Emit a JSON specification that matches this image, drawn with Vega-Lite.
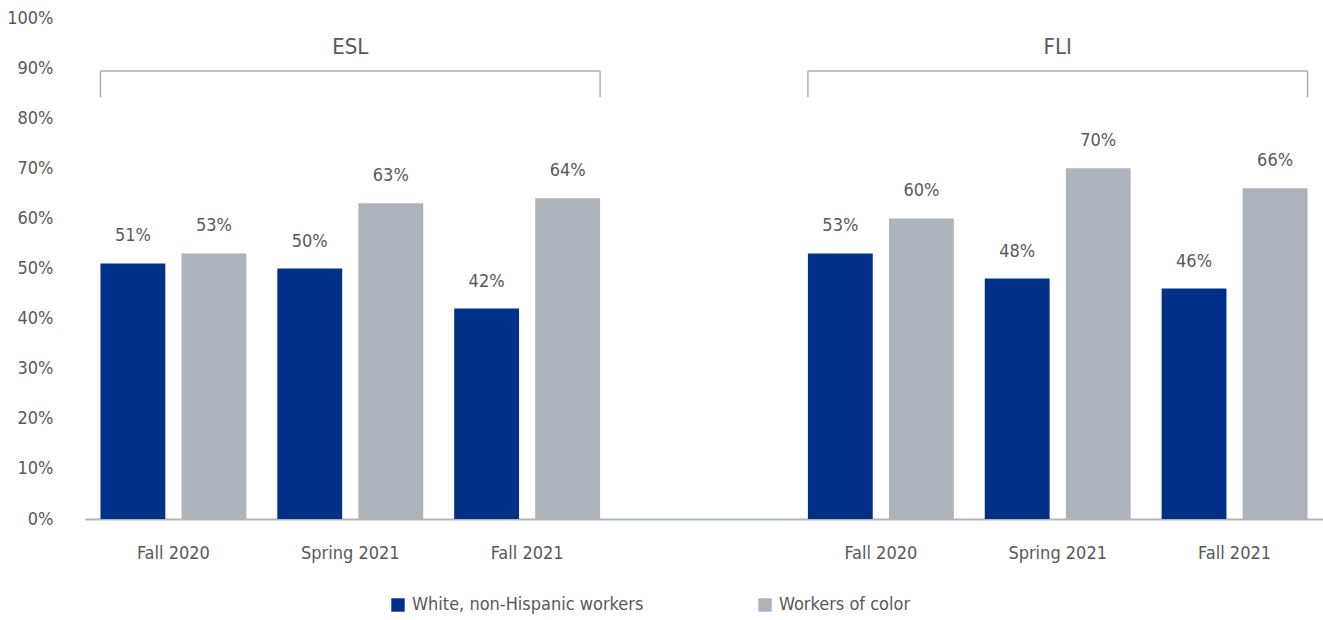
{
  "$schema": "https://vega.github.io/schema/vega-lite/v6.json",
  "width": 1238,
  "height": 501,
  "autosize": {"type": "none"},
  "padding": {"left": 85, "top": 18, "right": 0, "bottom": 101},
  "background": "white",
  "config": {
    "view": {"stroke": null},
    "font": "DejaVu Sans Condensed, Roboto, sans-serif",
    "text": {"font": "DejaVu Sans Condensed, Roboto, sans-serif"}
  },
  "datasets": {
    "bars": [
      {"slot": "ESL Fall 2020", "series": "White, non-Hispanic workers", "value": 0.51},
      {"slot": "ESL Fall 2020", "series": "Workers of color", "value": 0.53},
      {"slot": "ESL Spring 2021", "series": "White, non-Hispanic workers", "value": 0.50},
      {"slot": "ESL Spring 2021", "series": "Workers of color", "value": 0.63},
      {"slot": "ESL Fall 2021", "series": "White, non-Hispanic workers", "value": 0.42},
      {"slot": "ESL Fall 2021", "series": "Workers of color", "value": 0.64},
      {"slot": "FLI Fall 2020", "series": "White, non-Hispanic workers", "value": 0.53},
      {"slot": "FLI Fall 2020", "series": "Workers of color", "value": 0.60},
      {"slot": "FLI Spring 2021", "series": "White, non-Hispanic workers", "value": 0.48},
      {"slot": "FLI Spring 2021", "series": "Workers of color", "value": 0.70},
      {"slot": "FLI Fall 2021", "series": "White, non-Hispanic workers", "value": 0.46},
      {"slot": "FLI Fall 2021", "series": "Workers of color", "value": 0.66}
    ],
    "brackets": [
      {"slot": "ESL Fall 2020", "slot_end": "ESL Fall 2021"},
      {"slot": "FLI Fall 2020", "slot_end": "FLI Fall 2021"}
    ],
    "groups": [
      {"slot": "ESL Spring 2021", "label": "ESL"},
      {"slot": "FLI Spring 2021", "label": "FLI"}
    ]
  },
  "layer": [
    {
      "data": {"name": "bars"},
      "mark": {"type": "bar"},
      "encoding": {
        "x": {
          "field": "slot", "type": "nominal",
          "scale": {"domain": ["ESL Fall 2020", "ESL Spring 2021", "ESL Fall 2021", "gap", "FLI Fall 2020", "FLI Spring 2021", "FLI Fall 2021"], "paddingInner": 0.175, "paddingOuter": 0.0875},
          "axis": {"title": null, "labelAngle": 0, "labelExpr": "datum.value == 'gap' ? '' : substring(datum.value, 4)", "ticks": false, "domainColor": "#b0b5ba", "domainWidth": 2, "labelPadding": 25, "labelFontSize": 18, "labelColor": "#595959"}
        },
        "xOffset": {"field": "series", "type": "nominal", "scale": {"paddingInner": 0.2, "paddingOuter": 0}},
        "y": {
          "field": "value", "type": "quantitative",
          "scale": {"domain": [0, 1]},
          "axis": {"title": null, "format": ".0%", "values": [0, 0.1, 0.2, 0.3, 0.4, 0.5, 0.6, 0.7, 0.8, 0.9, 1], "grid": false, "domain": false, "ticks": false, "labelPadding": 32, "labelFontSize": 18, "labelColor": "#595959"}
        },
        "color": {
          "field": "series", "type": "nominal",
          "scale": {"range": ["#003087", "#adb3ba"]},
          "legend": {"title": null, "orient": "none", "direction": "horizontal", "legendX": 304, "legendY": 578, "symbolType": "square", "symbolSize": 180, "symbolStrokeWidth": 0, "labelFontSize": 18, "labelColor": "#595959", "labelLimit": 400, "columnPadding": 112, "labelOffset": 5}
        }
      }
    },
    {
      "data": {"name": "bars"},
      "mark": {"type": "text", "dy": -27, "fontSize": 18, "color": "#595959"},
      "encoding": {
        "x": {"field": "slot", "type": "nominal"},
        "xOffset": {"field": "series", "type": "nominal"},
        "y": {"field": "value", "type": "quantitative"},
        "text": {"field": "value", "type": "quantitative", "format": ".0%"}
      }
    },
    {
      "data": {"name": "brackets"},
      "mark": {"type": "rule", "color": "#a9aeb3", "strokeWidth": 1.5},
      "encoding": {
        "x": {"field": "slot", "type": "nominal", "bandPosition": 0},
        "x2": {"field": "slot_end", "bandPosition": 1},
        "y": {"datum": 0.894, "type": "quantitative"}
      }
    },
    {
      "data": {"name": "brackets"},
      "mark": {"type": "rule", "color": "#a9aeb3", "strokeWidth": 1.5},
      "encoding": {
        "x": {"field": "slot", "type": "nominal", "bandPosition": 0},
        "y": {"datum": 0.842, "type": "quantitative"},
        "y2": {"datum": 0.894}
      }
    },
    {
      "data": {"name": "brackets"},
      "mark": {"type": "rule", "color": "#a9aeb3", "strokeWidth": 1.5},
      "encoding": {
        "x": {"field": "slot_end", "type": "nominal", "bandPosition": 1},
        "y": {"datum": 0.842, "type": "quantitative"},
        "y2": {"datum": 0.894}
      }
    },
    {
      "data": {"name": "groups"},
      "mark": {"type": "text", "fontSize": 22, "color": "#595959", "baseline": "middle"},
      "encoding": {
        "x": {"field": "slot", "type": "nominal"},
        "y": {"datum": 0.942, "type": "quantitative"},
        "text": {"field": "label"}
      }
    }
  ]
}
